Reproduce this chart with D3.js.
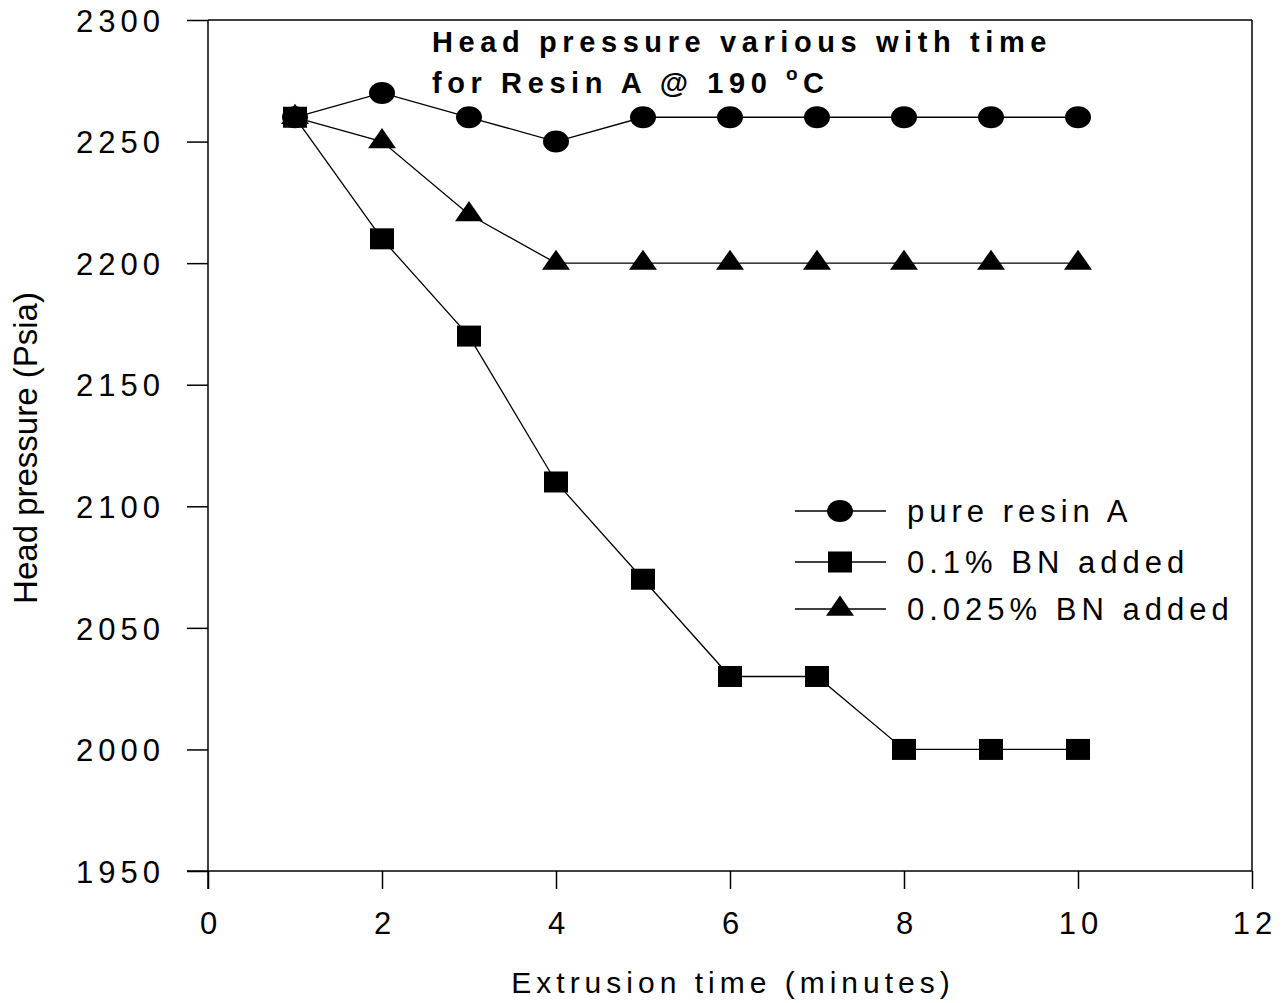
<!DOCTYPE html>
<html><head><meta charset="utf-8">
<script src="https://cdn.jsdelivr.net/npm/d3@7"></script>
<style>body{margin:0;background:#fff} text{font-family:"Liberation Sans",Arial,sans-serif;fill:#000}</style>
</head><body><svg id="c" width="1282" height="1003"></svg>
<script>
const minutes=[1,2,3,4,5,6,7,8,9,10];
const pureResinA=[2260,2270,2260,2250,2260,2260,2260,2260,2260,2260];
const bn01=[2260,2210,2170,2110,2070,2030,2030,2000,2000,2000];
const bn0025=[2260,2250,2220,2200,2200,2200,2200,2200,2200,2200];
const seriesNames=["pure resin A","0.1% BN added","0.025% BN added"];
const xTicks=[0,2,4,6,8,10,12];
const yTicks=[1950,2000,2050,2100,2150,2200,2250,2300];
const titleLines=["Head pressure various with time","for Resin A @ 190"];
const xLabel="Extrusion time (minutes)";
const yLabel="Head pressure (Psia)";

const svg=d3.select("#c");
const x=d3.scaleLinear().domain([0,12]).range([208,1252]);
const y=d3.scaleLinear().domain([1950,2300]).range([871,20]);

// frame (top and right)
svg.append("line").attr("x1",x(0)).attr("x2",x(12)).attr("y1",y(2300)).attr("y2",y(2300)).attr("stroke","#000").attr("stroke-width",1.5);
svg.append("line").attr("x1",x(12)).attr("x2",x(12)).attr("y1",y(2300)).attr("y2",y(1950)).attr("stroke","#000").attr("stroke-width",1.5);

const xAxis=svg.append("g").attr("transform",`translate(0,${y(1950)})`)
  .call(d3.axisBottom(x).tickValues(xTicks).tickSize(18).tickPadding(13).tickFormat(d3.format("d")));
const yAxis=svg.append("g").attr("transform",`translate(${x(0)},0)`)
  .call(d3.axisLeft(y).tickValues(yTicks).tickSize(21).tickPadding(10).tickFormat(d3.format("d")));
[xAxis,yAxis].forEach(g=>{
  g.select(".domain").attr("stroke","#000").attr("stroke-width",1.5);
  g.selectAll(".tick line").attr("stroke","#000").attr("stroke-width",1.5);
  g.selectAll(".tick text").attr("font-size",31).attr("letter-spacing",5).style("font-family","'Liberation Sans',Arial,sans-serif").attr("fill","#000");
});
xAxis.select(".domain").attr("d",`M${x(0)-21},0H${x(12)}`);
yAxis.select(".domain").attr("d",`M0,${y(2300)}V${y(1950)+18}`);
xAxis.selectAll(".tick text").attr("dx",2.5).attr("dy","1.03em");
yAxis.selectAll(".tick text").attr("dx",-12).attr("dy","0.36em");

// symbol shapes (slightly wider than tall, as in the original)
function marker(g,type){
  if(type==="circle") g.append("ellipse").attr("rx",13).attr("ry",11);
  else if(type==="square") g.append("rect").attr("x",-12).attr("y",-10.5).attr("width",24).attr("height",21);
  else g.append("path").attr("d","M0,-13.5L14,6.7L-14,6.7Z");
}
const series=[
  {name:seriesNames[1],vals:bn01,type:"square"},
  {name:seriesNames[2],vals:bn0025,type:"triangle"},
  {name:seriesNames[0],vals:pureResinA,type:"circle"}
];
const line=d3.line().x(d=>x(d[0])).y(d=>y(d[1]));
series.forEach(s=>{
  svg.append("path").datum(minutes.map((m,i)=>[m,s.vals[i]])).attr("d",line)
    .attr("fill","none").attr("stroke","#000").attr("stroke-width",1.3);
});
series.forEach(s=>{
  minutes.forEach((m,i)=>{
    const g=svg.append("g").attr("transform",`translate(${x(m)},${y(s.vals[i])})`).attr("fill","#000");
    marker(g,s.type);
  });
});

// legend
const legend=[{name:seriesNames[0],type:"circle",yy:511},{name:seriesNames[1],type:"square",yy:562},{name:seriesNames[2],type:"triangle",yy:609}];
legend.forEach(l=>{
  svg.append("line").attr("x1",795).attr("x2",886).attr("y1",l.yy).attr("y2",l.yy).attr("stroke","#000").attr("stroke-width",1.3);
  const g=svg.append("g").attr("transform",`translate(840,${l.yy})`).attr("fill","#000");
  marker(g,l.type);
  svg.append("text").attr("x",907).attr("y",l.yy+11).attr("font-size",31).attr("letter-spacing",5).text(l.name);
});

// title
svg.append("text").attr("x",432).attr("y",52).attr("font-size",29).attr("font-weight","bold").attr("letter-spacing",5.6).text(titleLines[0]);
const t2=svg.append("g").attr("font-weight","bold");
t2.append("text").attr("x",432).attr("y",93).attr("font-size",29).attr("letter-spacing",5.6).text(titleLines[1]);
t2.append("text").attr("x",786).attr("y",80).attr("font-size",19).text("o");
t2.append("text").attr("x",803).attr("y",93).attr("font-size",29).text("C");

// axis labels
svg.append("text").attr("x",733).attr("y",993).attr("text-anchor","middle").attr("font-size",30).attr("letter-spacing",5).text(xLabel);
svg.append("text").attr("transform","translate(37,448) rotate(-90)").attr("text-anchor","middle").attr("font-size",33).text(yLabel);
</script></body></html>
